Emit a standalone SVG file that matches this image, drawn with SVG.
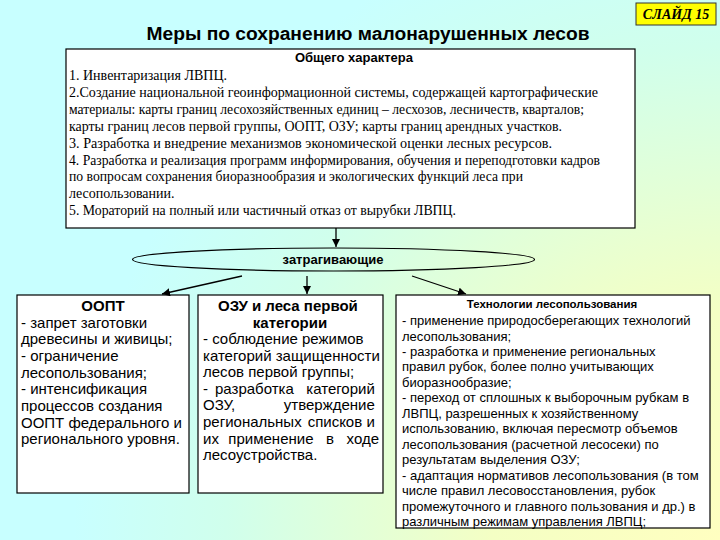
<svg xmlns="http://www.w3.org/2000/svg" width="720" height="540" viewBox="0 0 720 540">
<defs>
<radialGradient id="bg" gradientUnits="userSpaceOnUse" cx="720" cy="540" r="760">
<stop offset="0" stop-color="#ffffc0"/>
<stop offset="0.3" stop-color="#f4ffc4"/>
<stop offset="0.65" stop-color="#d0ffec"/>
<stop offset="0.85" stop-color="#c8ffff"/>
<stop offset="1" stop-color="#c8ffff"/>
</radialGradient>
<marker id="ah" viewBox="0 0 10 10" refX="10" refY="5" markerWidth="8" markerHeight="8" markerUnits="userSpaceOnUse" orient="auto">
<path d="M0,0 L10,5 L0,10 z" fill="#000"/>
</marker>
<style>
.box{fill:#fff;stroke:#000;stroke-width:1.2}
.ser{font-family:"Liberation Serif","Times New Roman",serif;font-size:14px;fill:#000}
.sans{font-family:"Liberation Sans",Arial,sans-serif;fill:#000}
.b{font-weight:bold}
.s15{font-size:15px}
.s13{font-size:13px}
.con{stroke:#000;stroke-width:1.3;fill:none;marker-end:url(#ah)}
</style>
</defs>
<rect x="0" y="0" width="720" height="540" fill="url(#bg)"/>

<g id="slide-label">
<rect x="636" y="3" width="80" height="22" fill="#ffff00" stroke="#333" stroke-width="1"/>
<text x="676" y="19" text-anchor="middle" font-family="Liberation Serif,serif" font-style="italic" font-weight="bold" font-size="14">СЛАЙД 15</text>
</g>

<g id="title">
<text x="368" y="40" text-anchor="middle" class="sans b" font-size="18" textLength="443" lengthAdjust="spacingAndGlyphs">Меры по сохранению малонарушенных лесов</text>
</g>

<g id="general">
<rect class="box" x="66" y="49" width="569" height="179"/>
<text x="354" y="62" text-anchor="middle" class="sans b" font-size="13">Общего характера</text>
<g class="ser">
<text x="69" y="80">1. Инвентаризация ЛВПЦ.</text>
<text x="69" y="96.9" textLength="529" lengthAdjust="spacingAndGlyphs">2.Создание национальной геоинформационной системы, содержащей картографические</text>
<text x="69" y="113.8" textLength="515" lengthAdjust="spacingAndGlyphs">материалы: карты границ лесохозяйственных единиц – лесхозов, лесничеств, кварталов;</text>
<text x="69" y="130.7" textLength="493" lengthAdjust="spacingAndGlyphs">карты границ лесов первой группы, ООПТ, ОЗУ; карты границ арендных участков.</text>
<text x="69" y="147.6" textLength="483" lengthAdjust="spacingAndGlyphs">3. Разработка и внедрение механизмов экономической оценки лесных ресурсов.</text>
<text x="69" y="164.5" textLength="531" lengthAdjust="spacingAndGlyphs">4. Разработка и реализация программ информирования, обучения и переподготовки кадров</text>
<text x="69" y="181.4" textLength="454" lengthAdjust="spacingAndGlyphs">по вопросам сохранения биоразнообразия и экологических функций леса при</text>
<text x="69" y="198.3">лесопользовании.</text>
<text x="69" y="215.2" textLength="387" lengthAdjust="spacingAndGlyphs">5. Мораторий на полный или частичный отказ от вырубки ЛВПЦ.</text>
</g>
</g>

<g id="affecting">
<ellipse cx="333.5" cy="259.5" rx="201" ry="11.5" fill="none" stroke="#000" stroke-width="1.2"/>
<text x="333" y="264" text-anchor="middle" class="sans b" font-size="13">затрагивающие</text>
</g>

<g id="oopt">
<rect class="box" x="17" y="295" width="172" height="198"/>
<text x="103" y="311" text-anchor="middle" class="sans b s15">ООПТ</text>
<text class="sans s15">
<tspan x="21" y="327.5">- запрет заготовки</tspan>
<tspan x="21" y="344.2">древесины и живицы;</tspan>
<tspan x="21" y="360.9">- ограничение</tspan>
<tspan x="21" y="377.6">лесопользования;</tspan>
<tspan x="21" y="394.3">- интенсификация</tspan>
<tspan x="21" y="411">процессов создания</tspan>
<tspan x="21" y="427.7">ООПТ федерального и</tspan>
<tspan x="21" y="444.4">регионального уровня.</tspan>
</text>
</g>

<g id="ozu">
<rect class="box" x="198" y="295" width="185" height="198"/>
<text text-anchor="middle" class="sans b s15">
<tspan x="290" y="311">ОЗУ и леса первой</tspan>
<tspan x="290" y="327.5">категории</tspan>
</text>
<text class="sans s15">
<tspan x="203" y="344">- соблюдение режимов</tspan>
<tspan x="203" y="360.6">категорий защищенности</tspan>
<tspan x="203" y="377.2">лесов первой группы;</tspan>
<tspan x="203" y="393.8">-</tspan>
<tspan x="215" y="393.8">разработка</tspan>
<tspan x="203" y="410.4">ОЗУ,</tspan>
<tspan x="203" y="427">региональных</tspan>
<tspan x="203" y="443.6">их</tspan>
<tspan x="203" y="460.2">лесоустройства.</tspan>
</text>
<text class="sans s15" text-anchor="end">
<tspan x="379" y="393.8">категорий</tspan>
<tspan x="379" y="410.4">утверждение</tspan>
<tspan x="379" y="427">и</tspan>
<tspan x="379" y="443.6">ходе</tspan>
</text>
<text class="sans s15" text-anchor="middle">
<tspan x="337" y="427">списков</tspan>
<tspan x="273" y="443.6">применение</tspan>
<tspan x="330" y="443.6">в</tspan>
</text>
</g>

<g id="tech">
<rect class="box" x="396" y="295" width="314" height="233"/>
<text x="552" y="308" text-anchor="middle" class="sans b" font-size="11.5">Технологии лесопользования</text>
<text class="sans s13">
<tspan x="402" y="325">- применение природосберегающих технологий</tspan>
<tspan x="402" y="340.5">лесопользования;</tspan>
<tspan x="402" y="355.9">- разработка и применение региональных</tspan>
<tspan x="402" y="371.4">правил рубок, более полно учитывающих</tspan>
<tspan x="402" y="386.8">биоразнообразие;</tspan>
<tspan x="402" y="402.3">- переход от сплошных к выборочным рубкам в</tspan>
<tspan x="402" y="417.8">ЛВПЦ, разрешенных к хозяйственному</tspan>
<tspan x="402" y="433.2">использованию, включая пересмотр объемов</tspan>
<tspan x="402" y="448.7">лесопользования (расчетной лесосеки) по</tspan>
<tspan x="402" y="464.1">результатам выделения ОЗУ;</tspan>
<tspan x="402" y="479.6">- адаптация нормативов лесопользования (в том</tspan>
<tspan x="402" y="495">числе правил лесовосстановления, рубок</tspan>
<tspan x="402" y="510.5">промежуточного и главного пользования и др.) в</tspan>
<tspan x="402" y="526">различным режимам управления ЛВПЦ;</tspan>
</text>
</g>

<g id="connectors">
<line class="con" x1="336" y1="228" x2="336" y2="247"/>
<line class="con" x1="242" y1="276" x2="162" y2="294"/>
<line class="con" x1="307" y1="276" x2="307" y2="294"/>
<line class="con" x1="412" y1="276" x2="466" y2="294"/>
</g>
</svg>
